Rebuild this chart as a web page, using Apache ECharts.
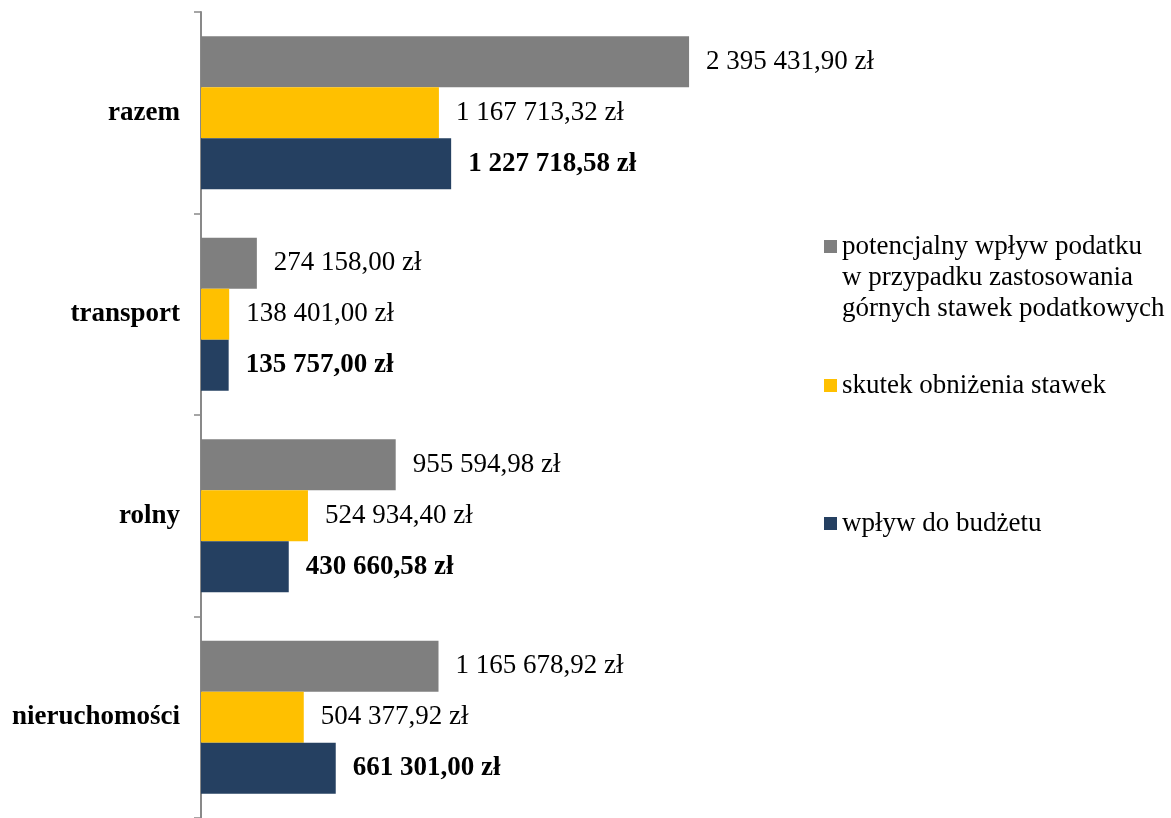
<!DOCTYPE html>
<html>
<head>
<meta charset="utf-8">
<script src="https://cdn.jsdelivr.net/npm/echarts@6/dist/echarts.min.js"></script>
<style>
  html, body { margin: 0; padding: 0; background: #fff; }
  #chart { width: 1171px; height: 818px; }
</style>
</head>
<body>
<div id="chart"></div>
<script>
// kategorie od dołu do góry
const categories = ['nieruchomości', 'rolny', 'transport', 'razem']
const seriesNames = [
  'potencjalny wpływ podatku\nw przypadku zastosowania\ngórnych stawek podatkowych',
  'skutek obniżenia stawek',
  'wpływ do budżetu'
]
const potencjalny = [1165678.92, 955594.98, 274158.00, 2395431.90]
const skutek = [504377.92, 524934.40, 138401.00, 1167713.32]
const wplyw = [661301.00, 430660.58, 135757.00, 1227718.58]

const font = "'Liberation Serif', 'Times New Roman', serif"

function zl (v) {
  const parts = v.toFixed(2).split('.')
  const int = parts[0].replace(/\B(?=(\d{3})+(?!\d))/g, ' ')
  return int + ',' + parts[1] + ' zł'
}

const chartObj = echarts.init(document.getElementById('chart'))

function barSeries (name, data, color, bold) {
  return {
    name: name,
    type: 'bar',
    data: data,
    barWidth: 51,
    barGap: '0%',
    itemStyle: { color: color },
    label: {
      show: true,
      position: 'right',
      distance: 17,
      fontFamily: font,
      fontSize: 27,
      fontWeight: bold ? 'bold' : 'normal',
      color: '#000',
      formatter: function (p) { return zl(p.value) }
    }
  }
}

// ikona legendy ma stać przy pierwszej linii, więc puste linie nad tekstem
function legendItem (name, top) {
  const lines = name.split('\n').length
  return {
    data: [name],
    orient: 'vertical',
    left: 824,
    top: top,
    padding: 0,
    icon: 'rect',
    itemWidth: 13,
    itemHeight: 13,
    selectedMode: false,
    formatter: function (n) { return '\n'.repeat(lines - 1) + n },
    textStyle: {
      fontFamily: font,
      fontSize: 27,
      lineHeight: 31,
      color: '#000'
    }
  }
}

const option = {
  animation: false,
  grid: { left: 201, top: 12, width: 815, height: 811 },
  legend: [
    legendItem(seriesNames[0], 169),
    legendItem(seriesNames[1], 370),
    legendItem(seriesNames[2], 508)
  ],
  xAxis: {
    type: 'value',
    min: 0,
    max: 4000000,
    show: false
  },
  yAxis: {
    type: 'category',
    data: categories,
    axisLine: { show: true, lineStyle: { color: '#898989', width: 2 } },
    axisTick: { show: true, length: 7, lineStyle: { color: '#898989', width: 1.5 } },
    axisLabel: {
      margin: 21,
      fontFamily: font,
      fontSize: 27,
      fontWeight: 'bold',
      color: '#000'
    },
    splitLine: { show: false }
  },
  series: [
    barSeries(seriesNames[0], potencjalny, '#7f7f7f', false),
    barSeries(seriesNames[1], skutek, '#ffc000', false),
    barSeries(seriesNames[2], wplyw, '#254061', true)
  ]
}

chartObj.setOption(option)
</script>
</body>
</html>
